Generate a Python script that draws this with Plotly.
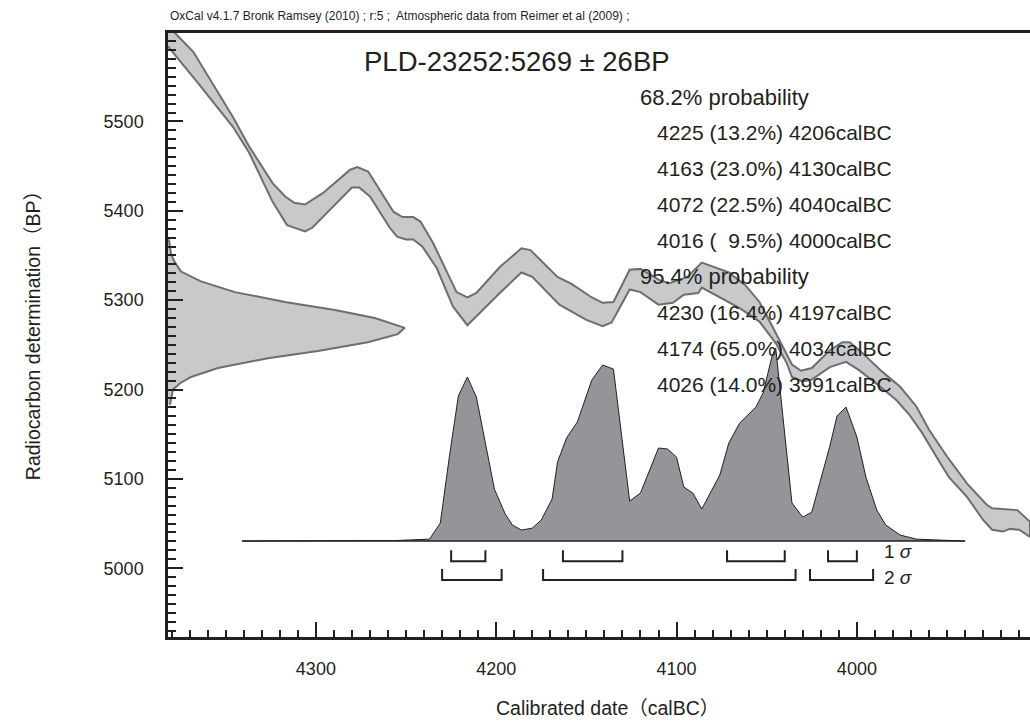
import plotly.graph_objects as go

# calibration curve band (calBC, BP) - upper and lower edge
upper_year = [4382, 4378, 4368, 4346, 4337, 4324, 4317, 4312, 4306, 4296, 4281, 4277, 4271,
              4257, 4252, 4246, 4242, 4235, 4222, 4216, 4211, 4198, 4186, 4181, 4166, 4158,
              4147, 4141, 4135, 4126, 4120, 4109, 4104, 4094, 4086, 4079, 4071, 4062, 4054,
              4047, 4041, 4036, 4031, 4025, 4015, 4008, 4004, 3997, 3986, 3976, 3967, 3960,
              3950, 3939, 3928, 3925, 3911, 3904]
upper_bp = [5607, 5599, 5578, 5505, 5472, 5431, 5416, 5409, 5407, 5420, 5446, 5449, 5444,
            5399, 5393, 5393, 5388, 5364, 5309, 5303, 5308, 5337, 5358, 5356, 5326, 5318,
            5303, 5297, 5298, 5334, 5335, 5322, 5319, 5326, 5342, 5337, 5331, 5317, 5298,
            5271, 5248, 5228, 5221, 5224, 5244, 5253, 5253, 5241, 5220, 5203, 5181, 5155,
            5125, 5095, 5071, 5067, 5065, 5052]
lower_year = [4382, 4378, 4367, 4346, 4337, 4324, 4316, 4306, 4302, 4280, 4276, 4270, 4259,
              4255, 4250, 4246, 4241, 4233, 4224, 4216, 4210, 4198, 4186, 4180, 4165, 4150,
              4141, 4136, 4126, 4120, 4110, 4102, 4096, 4088, 4086, 4076, 4065, 4054, 4045,
              4039, 4036, 4030, 4025, 4015, 4006, 3999, 3987, 3978, 3971, 3964, 3956, 3949,
              3939, 3930, 3925, 3919, 3915, 3910, 3904]
lower_bp = [5584, 5575, 5547, 5494, 5465, 5410, 5384, 5377, 5381, 5426, 5426, 5416, 5381,
            5371, 5368, 5368, 5360, 5336, 5293, 5272, 5284, 5308, 5331, 5326, 5295, 5278,
            5271, 5275, 5312, 5309, 5295, 5297, 5306, 5308, 5314, 5303, 5291, 5276, 5252,
            5230, 5214, 5209, 5211, 5225, 5231, 5222, 5203, 5188, 5172, 5152, 5125, 5102,
            5080, 5054, 5043, 5041, 5044, 5043, 5035]

# radiocarbon measurement distribution (BP, relative probability)
gauss_bp = [5368, 5351, 5342, 5332, 5321, 5309, 5298, 5289, 5280, 5272, 5269, 5262, 5253,
            5243, 5235, 5224, 5214, 5207, 5200, 5183]
gauss_p = [0.004, 0.013, 0.03, 0.055, 0.139, 0.283, 0.494, 0.705, 0.873, 0.97, 1.0, 0.97,
           0.844, 0.633, 0.422, 0.211, 0.097, 0.051, 0.021, 0.008]

# calibrated distribution (calBC, relative probability)
post_year = [4341, 4255, 4237, 4231, 4226, 4221, 4216, 4211, 4201, 4195, 4191, 4186, 4180,
             4175, 4169, 4166, 4161, 4155, 4147, 4141, 4135, 4126, 4120, 4110, 4105, 4100,
             4096, 4091, 4086, 4076, 4071, 4065, 4056, 4052, 4047, 4045, 4036, 4030, 4025,
             4015, 4011, 4006, 4000, 3995, 3989, 3984, 3976, 3967, 3940]
post_p = [0, 0.003, 0.01, 0.093, 0.435, 0.751, 0.85, 0.746, 0.269, 0.14, 0.083, 0.057, 0.067,
          0.109, 0.218, 0.409, 0.534, 0.617, 0.834, 0.912, 0.891, 0.207, 0.249, 0.482, 0.477,
          0.435, 0.28, 0.249, 0.166, 0.342, 0.508, 0.611, 0.694, 0.767, 0.959, 1.0, 0.197,
          0.124, 0.15, 0.492, 0.648, 0.694, 0.539, 0.332, 0.161, 0.083, 0.031, 0.01, 0]

# probability ranges
sig1_from = [4225, 4163, 4072, 4016]
sig1_to = [4206, 4130, 4040, 4000]
sig1_pct = [13.2, 23.0, 22.5, 9.5]
sig2_from = [4230, 4174, 4026]
sig2_to = [4197, 4034, 3991]
sig2_pct = [16.4, 65.0, 14.0]

LAB = "PLD-23252"
BP_MEAN, BP_ERR = 5269, 26

INK = "#231f20"
BAND_FILL = "#c8c9cb"
BAND_LINE = "#6d6e71"
POST_FILL = "#939598"
FONT = "Liberation Sans, Arial, Noto Sans CJK JP, sans-serif"


def brackets(starts, ends, top, bottom):
    xs, ys = [], []
    for a, b in zip(starts, ends):
        xs += [a, a, b, b, None]
        ys += [top, bottom, bottom, top, None]
    return xs, ys


fig = go.Figure()

# calibration curve band
fig.add_trace(go.Scatter(
    x=upper_year + lower_year[::-1], y=upper_bp + lower_bp[::-1],
    fill="toself", fillcolor=BAND_FILL, mode="lines",
    line=dict(color=BAND_LINE, width=2), hoverinfo="skip",
))

# measurement on the BP axis
fig.add_trace(go.Scatter(
    x=gauss_p, y=gauss_bp, xaxis="x2", yaxis="y",
    fill="tozerox", fillcolor=BAND_FILL, mode="lines",
    line=dict(color=BAND_LINE, width=2), hoverinfo="skip",
))

# calibrated distribution
fig.add_trace(go.Scatter(
    x=post_year, y=post_p, xaxis="x", yaxis="y2",
    fill="tozeroy", fillcolor=POST_FILL, mode="lines",
    line=dict(color=INK, width=1), hoverinfo="skip",
))
fig.add_trace(go.Scatter(
    x=[post_year[0], post_year[-1]], y=[0, 0], xaxis="x", yaxis="y2",
    mode="lines", line=dict(color=INK, width=1.5), hoverinfo="skip",
))

# sigma range brackets
bx, by = brackets(sig1_from, sig1_to, -0.047, -0.104)
fig.add_trace(go.Scatter(x=bx, y=by, xaxis="x", yaxis="y2", mode="lines",
                         line=dict(color=INK, width=2), hoverinfo="skip"))
bx, by = brackets(sig2_from, sig2_to, -0.145, -0.202)
fig.add_trace(go.Scatter(x=bx, y=by, xaxis="x", yaxis="y2", mode="lines",
                         line=dict(color=INK, width=2), hoverinfo="skip"))


def rng_text(a, pct, b):
    p = f"{pct:.1f}".rjust(4, "\u2007")
    return f"{a} ({p}%) {b}calBC"


ann = []
ann.append(dict(text="OxCal v4.1.7 Bronk Ramsey (2010) ; r:5 ;  Atmospheric data from Reimer et al (2009) ;",
                x=0, y=1.028, xanchor="left", font=dict(size=12)))
ann.append(dict(text=f"{LAB}:{BP_MEAN} ± {BP_ERR}BP", x=0.225, y=0.952,
                xanchor="left", font=dict(size=27.5)))

rows = [("68.2% probability", 0.545)]
rows += [(rng_text(a, p, b), 0.565) for a, p, b in zip(sig1_from, sig1_pct, sig1_to)]
rows += [("95.4% probability", 0.545)]
rows += [(rng_text(a, p, b), 0.565) for a, p, b in zip(sig2_from, sig2_pct, sig2_to)]
for i, (t, xp) in enumerate(rows):
    size = 22 if t.endswith("probability") else 21
    ann.append(dict(text=t, x=xp, y=0.894 - i * 0.0594, xanchor="left", font=dict(size=size)))

ann.append(dict(text="1 <i>σ</i>", x=3986, xref="x", y=-0.055, yref="y2",
                xanchor="left", font=dict(size=19)))
ann.append(dict(text="2 <i>σ</i>", x=3986, xref="x", y=-0.19, yref="y2",
                xanchor="left", font=dict(size=19)))

ann.append(dict(text="Calibrated date（calBC）", x=0.51, y=-0.1175, font=dict(size=19.5)))
ann.append(dict(text="Radiocarbon determination（BP）", x=-0.1717, y=0.508,
                textangle=-90, font=dict(size=19.5)))

for a in ann:
    a.setdefault("xref", "paper")
    a.setdefault("yref", "paper")
    a.setdefault("yanchor", "middle")
    a["showarrow"] = False
    a["font"] = dict(family=FONT, color=INK, **a["font"])

fig.update_layout(
    width=1030, height=725,
    margin=dict(l=168, r=0, t=33, b=88),
    paper_bgcolor="white", plot_bgcolor="white",
    showlegend=False,
    font=dict(family=FONT, color=INK),
    xaxis=dict(
        range=[4382, 3904], tick0=0, dtick=100, ticks="inside", ticklen=15,
        tickwidth=2, tickcolor=INK, showline=True, linecolor=INK, linewidth=2.5,
        mirror=True, showgrid=False, zeroline=False,
        tickfont=dict(size=18, family=FONT, color=INK), ticklabelstandoff=14,
        minor=dict(dtick=10, ticks="inside", ticklen=7, tickwidth=1.5, tickcolor=INK),
    ),
    yaxis=dict(
        range=[4923, 5599], tick0=0, dtick=100, ticks="inside", ticklen=15,
        tickwidth=2, tickcolor=INK, showline=True, linecolor=INK, linewidth=2.5,
        showgrid=False, zeroline=False,
        tickfont=dict(size=18, family=FONT, color=INK), ticklabelstandoff=18,
        minor=dict(dtick=10, ticks="inside", ticklen=8, tickwidth=1.5, tickcolor=INK),
    ),
    xaxis2=dict(overlaying="x", range=[0, 3.64], visible=False, side="top"),
    yaxis2=dict(overlaying="y", range=[-0.497, 2.632], visible=False, side="right"),
    annotations=ann,
)

fig.write_html(
    "out.html",
    config={"displayModeBar": False},
    post_script="document.body.style.margin='0';document.body.style.overflow='hidden';",
)
